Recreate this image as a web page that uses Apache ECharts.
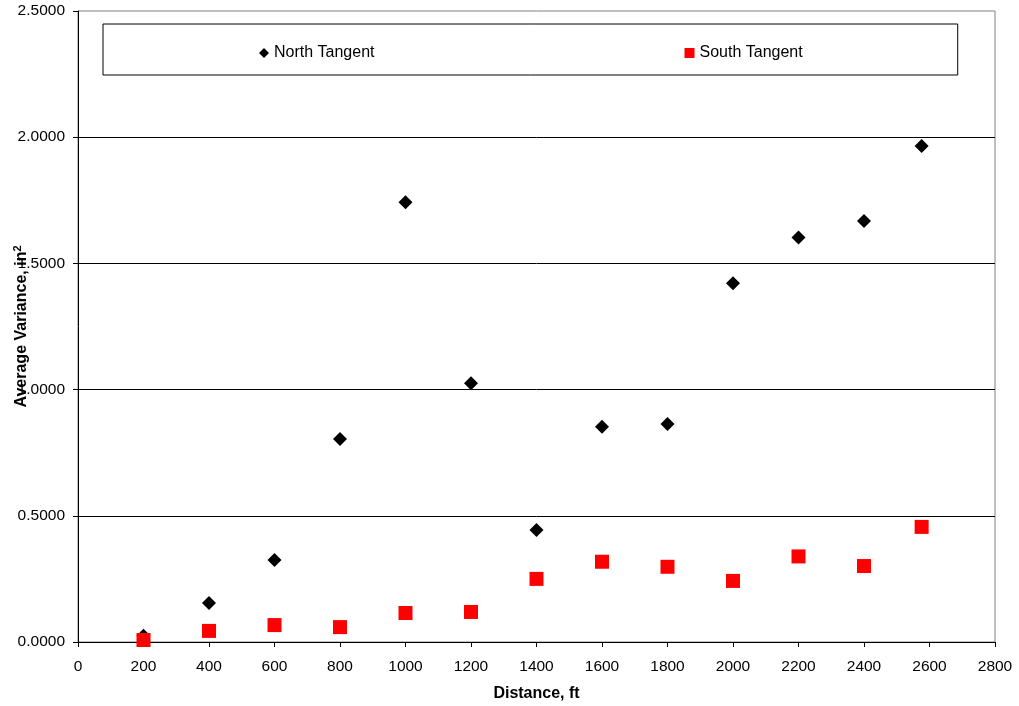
<!DOCTYPE html>
<html>
<head>
<meta charset="utf-8">
<script src="https://cdn.jsdelivr.net/npm/echarts@6/dist/echarts.min.js"></script>
<style>html,body{margin:0;padding:0;background:#fff;}#c{width:1019px;height:706px;}</style>
</head>
<body>
<div id="c"></div>
<script>
const distances = [200, 400, 600, 800, 1000, 1200, 1400, 1600, 1800, 2000, 2200, 2400, 2576];
const northTangent = [0.025, 0.155, 0.325, 0.804, 1.742, 1.025, 0.444, 0.853, 0.864, 1.421, 1.603, 1.668, 1.965];
const southTangent = [0.008, 0.044, 0.067, 0.059, 0.115, 0.119, 0.250, 0.318, 0.298, 0.242, 0.339, 0.301, 0.456];
const seriesNames = ['North Tangent', 'South Tangent'];

const pairs = (xs, ys) => xs.map((x, i) => [x, ys[i]]);
const font = 'Liberation Sans, Arial, sans-serif';

const chart = echarts.init(document.getElementById('c'), null, {renderer: 'canvas'});
chart.setOption({
  backgroundColor: '#fff',
  animation: false,
  textStyle: {fontFamily: font},
  grid: {left: 78, right: 24, top: 11, bottom: 64, show: true, borderColor: '#808080', borderWidth: 1,
         containLabel: false, outerBoundsMode: 'none'},
  legend: {
    left: 103, top: 24,
    padding: [21, 155, 14, 156],
    itemGap: 310,
    itemWidth: 10, itemHeight: 10,
    borderColor: '#000', borderWidth: 1,
    textStyle: {fontFamily: font, fontSize: 16, color: '#000'},
    data: [
      {name: seriesNames[0], icon: 'diamond'},
      {name: seriesNames[1], icon: 'rect'}
    ]
  },
  xAxis: {
    type: 'value', min: 0, max: 2800, interval: 200,
    name: 'Distance, ft', nameLocation: 'middle', nameGap: 44, nameMoveOverlap: false,
    nameTextStyle: {fontFamily: font, fontSize: 16, fontWeight: 'bold', color: '#000'},
    axisLine: {show: true, lineStyle: {color: '#000', width: 1}},
    axisTick: {show: true, inside: false, length: 5, lineStyle: {color: '#000'}},
    axisLabel: {fontFamily: font, fontSize: 15.5, color: '#000', margin: 17, formatter: v => String(v)},
    splitLine: {show: false}
  },
  yAxis: {
    type: 'value', min: 0, max: 2.5, interval: 0.5,
    name: 'Average Variance, in{sup|2}', nameLocation: 'middle', nameGap: 46, nameRotate: 90, nameMoveOverlap: false,
    nameTextStyle: {fontFamily: font, fontSize: 16, fontWeight: 'bold', color: '#000',
      rich: {sup: {fontFamily: font, fontSize: 11, fontWeight: 'bold', color: '#000', verticalAlign: 'top', padding: [0, 0, 9, 0]}}},
    axisLine: {show: true, lineStyle: {color: '#000', width: 1}},
    axisTick: {show: true, inside: false, length: 5, lineStyle: {color: '#000'}},
    axisLabel: {fontFamily: font, fontSize: 15.5, color: '#000', margin: 13, formatter: v => v.toFixed(4)},
    splitLine: {show: true, showMaxLine: false, lineStyle: {color: '#000', width: 1}}
  },
  series: [
    {
      name: seriesNames[0], type: 'scatter', symbol: 'diamond', symbolSize: 14,
      itemStyle: {color: '#000', opacity: 1}, z: 3,
      data: pairs(distances, northTangent)
    },
    {
      name: seriesNames[1], type: 'scatter', symbol: 'rect', symbolSize: 14,
      itemStyle: {color: '#ff0000', opacity: 1}, z: 4,
      data: pairs(distances, southTangent)
    }
  ]
});
</script>
</body>
</html>
